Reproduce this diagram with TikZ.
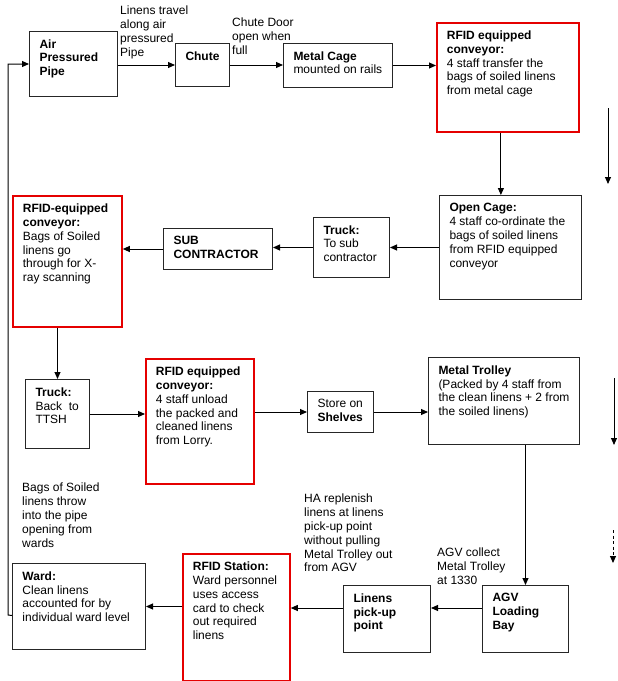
\documentclass[tikz,border=0pt]{standalone}
\usepackage{fontspec}
\setmainfont{Liberation Sans}
\usetikzlibrary{arrows.meta}
\newcommand{\boxtext}[3]{\parbox[t][#2][t]{#1}{\raggedright #3}}

\begin{document}
\begin{tikzpicture}[x=1pt,y=-1pt,
    every node/.style={font=\fontsize{12}{13.8}\selectfont},
    stage/.style={draw=black!85,line width=1pt,anchor=north west,inner xsep=10pt,inner ysep=8pt},
    redstage/.style={stage,draw=red!90!black,line width=1.8pt},
    note/.style={anchor=north west,inner sep=0pt,align=left},
    flow/.style={line width=1pt,-{Triangle[length=7pt,width=6pt]}}]
    \useasboundingbox (0,0) rectangle (618,681);
    \node[stage] (pipe) at (29,31) {\boxtext{68pt}{49pt}{\textbf{Air}\\\textbf{Pressured}\\\textbf{Pipe}}};
    \node[stage] (chute) at (175,43) {\boxtext{34pt}{27pt}{\textbf{Chute}}};
    \node[stage] (cage) at (283,43) {\boxtext{89pt}{28pt}{\textbf{Metal Cage}\\mounted on rails}};
    \node[redstage] (conv1) at (436,22) {\boxtext{122pt}{93pt}{\textbf{RFID equipped}\\\textbf{conveyor:}\\4 staff transfer the\\bags of soiled linens\\from metal cage}};
    \node[stage] (opencage) at (439,195) {\boxtext{122pt}{88pt}{\textbf{Open Cage:}\\4 staff co-ordinate the\\bags of soiled linens\\from RFID equipped\\conveyor}};
    \node[stage] (truck1) at (313,217) {\boxtext{56pt}{44pt}{\textbf{Truck:}\\To sub\\contractor}};
    \node[stage] (sub) at (163,228) {\boxtext{89pt}{25pt}{\textbf{SUB}\\\textbf{CONTRACTOR}}};
    \node[redstage] (conv2) at (12,195) {\boxtext{89pt}{115pt}{\textbf{RFID-equipped}\\\textbf{conveyor:}\\Bags of Soiled\\linens go\\through for X-\\ray scanning}};
    \node[stage] (truck2) at (25,379) {\boxtext{44pt}{53pt}{\textbf{Truck:}\\Back\ \ to\\TTSH}};
    \node[redstage] (conv3) at (145,358) {\boxtext{88pt}{109pt}{\textbf{RFID equipped}\\\textbf{conveyor:}\\4 staff unload\\the packed and\\cleaned linens\\from Lorry.}};
    \node[stage] (shelves) at (307,391) {\boxtext{46pt}{25pt}{Store on\\\textbf{Shelves}}};
    \node[stage] (trolley) at (428,357) {\boxtext{131pt}{71pt}{\textbf{Metal Trolley}\\(Packed by 4 staff from\\the clean linens + 2 from\\the soiled linens)}};
    \node[stage] (agv) at (482,585) {\boxtext{66pt}{51pt}{\textbf{AGV}\\\textbf{Loading}\\\textbf{Bay}}};
    \node[stage] (pickup) at (343,585) {\boxtext{67pt}{51pt}{\textbf{Linens}\\\textbf{pick-up}\\\textbf{point}}};
    \node[redstage] (station) at (182,553) {\boxtext{87pt}{111pt}{\textbf{RFID Station:}\\Ward personnel\\uses access\\card to check\\out required\\linens}};
    \node[stage] (ward) at (12,563) {\boxtext{113pt}{70pt}{\textbf{Ward:}\\Clean linens\\accounted for by\\individual ward level}};

    \node[note] (travel) at (120,6) {Linens travel\\along air\\pressured\\Pipe};
    \node[note] (door) at (232,18) {Chute Door\\open when\\full};
    \node[note] (throw) at (22,483) {Bags of Soiled\\linens throw\\into the pipe\\opening from\\wards};
    \node[note] (replenish) at (304,494) {HA replenish\\linens at linens\\pick-up point\\without pulling\\Metal Trolley out\\from AGV};
    \node[note] (collect) at (437,548) {AGV collect\\Metal Trolley\\at 1330};

    \coordinate (c1out) at ([xshift=-7pt]conv1.south);
    \coordinate (agvout) at ([yshift=11pt]agv.west);
    \coordinate (pickout) at ([yshift=11pt]pickup.west);
    \coordinate (wardout) at ([yshift=-9pt]ward.west);
    \coordinate (loop) at (8,615);
    \draw[flow] (pipe.east |- chute.west) -- (chute.west);
    \draw[flow] (chute.east) -- (chute.east -| cage.west);
    \draw[flow] (cage.east) -- (cage.east -| conv1.west);
    \draw[flow] (c1out) -- (c1out |- opencage.north);
    \draw[flow] (opencage.west) -- (opencage.west -| truck1.east);
    \draw[flow] (truck1.west) -- (truck1.west -| sub.east);
    \draw[flow] (sub.west) -- (sub.west -| conv2.east);
    \draw[flow] (truck2.north |- conv2.south) -- (truck2.north);
    \draw[flow] (truck2.east) -- (truck2.east -| conv3.west);
    \draw[flow] (shelves.west -| conv3.east) -- (shelves.west);
    \draw[flow] (shelves.east) -- (shelves.east -| trolley.west);
    \draw[flow] (agv.north |- trolley.south) -- (agv.north);
    \draw[flow] (agvout) -- (agvout -| pickup.east);
    \draw[flow] (pickout) -- (pickout -| station.east);
    \draw[flow] (ward.east -| station.west) -- (ward.east);
    \draw[flow] (wardout) -- (loop) |- (pipe.west);

    \coordinate (d1a) at (608,108);
    \coordinate (d1b) at (608,184);
    \coordinate (d2a) at (614,378);
    \coordinate (d2b) at (614,445);
    \coordinate (d3a) at (613,530);
    \coordinate (d3b) at (613,563);
    \draw[flow] (d1a) -- (d1b);
    \draw[flow] (d2a) -- (d2b);
    \draw[flow,dash pattern=on 3pt off 2.5pt] (d3a) -- (d3b);
\end{tikzpicture}
\end{document}
